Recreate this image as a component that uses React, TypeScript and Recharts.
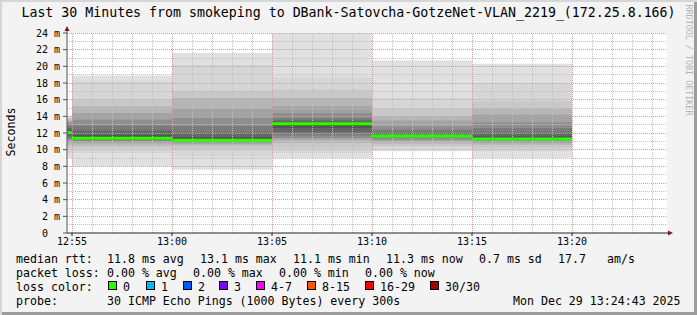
import React from 'react';
import {
  ComposedChart,
  Area,
  Line,
  XAxis,
  YAxis,
  CartesianGrid,
  ReferenceLine,
  ReferenceDot,
} from 'recharts';

// 5-minute rounds, seconds relative to 12:55:00
const blockStarts = [-15, 0, 300, 600, 900, 1200];
const blockEnd = 1500;
const medians = [12.04, 11.36, 11.12, 13.12, 11.64, 11.28];

// sorted ping times (ms) per round
const pings0 = [9.0, 9.6, 10.2, 10.6, 10.9, 11.2, 11.4, 11.6, 11.8, 11.95, 12.1, 12.3, 12.6, 12.9, 13.2, 13.4, 13.6, 13.8, 13.9, 14.1];
const pings1 = [8.0, 9.6, 10.2, 10.5, 10.8, 11.0, 11.1, 11.2, 11.3, 11.35, 11.45, 11.8, 12.3, 12.9, 13.6, 14.4, 15.2, 16.0, 18.2, 18.9];
const pings2 = [7.6, 9.2, 10.1, 10.5, 10.7, 10.9, 11.0, 11.05, 11.1, 11.12, 11.2, 11.5, 12.0, 12.8, 13.8, 15.0, 16.2, 17.1, 20.2, 21.6];
const pings3 = [9.0, 9.6, 10.2, 10.8, 11.2, 11.4, 11.7, 12.1, 12.6, 13.05, 13.15, 13.3, 13.5, 13.8, 14.4, 15.2, 16.2, 17.2, 18.7, 25.0];
const pings4 = [9.8, 10.1, 10.4, 10.7, 11.0, 11.2, 11.4, 11.5, 11.55, 11.62, 11.7, 11.8, 12.0, 12.4, 12.8, 13.5, 14.0, 15.0, 16.2, 20.7];
const pings5 = [9.0, 9.8, 10.2, 10.6, 10.8, 11.0, 11.1, 11.15, 11.2, 11.25, 11.35, 11.6, 12.0, 12.6, 13.3, 14.2, 15.0, 15.8, 18.0, 20.3];
const blockPings = [pings0, pings1, pings2, pings3, pings4, pings5];

const smokeShades = ['#e0e0e0', '#d6d6d6', '#c8c8c8', '#b6b6b6', '#a2a2a2', '#8e8e8e', '#7a7a7a', '#666666', '#555555', '#444444'];

const timeTicks = [0, 300, 600, 900, 1200, 1500];
const timeLabels = ['12:55', '13:00', '13:05', '13:10', '13:15', '13:20'];
const minorTimes = [60, 120, 180, 240, 360, 420, 480, 540, 660, 720, 780, 840, 960, 1020, 1080, 1140, 1260, 1320, 1380, 1440, 1560, 1620, 1680, 1740];
const msTicks = [0, 2, 4, 6, 8, 10, 12, 14, 16, 18, 20, 22, 24];
const majorMs = [2, 4, 6, 8, 10, 12, 14, 16, 18, 20, 22, 24];
const minorMs = [1, 3, 5, 7, 9, 11, 13, 15, 17, 19, 21, 23];

const rttLegend = [
  { text: 'median rtt:', x: 16 },
  { text: '11.8 ms avg', x: 107 },
  { text: '13.1 ms max', x: 200 },
  { text: '11.1 ms min', x: 293 },
  { text: '11.3 ms now', x: 386 },
  { text: '0.7 ms sd', x: 479 },
  { text: '17.7', x: 558 },
  { text: 'am/s', x: 607 },
];
const lossLegend = [
  { text: 'packet loss:', x: 16 },
  { text: '0.00 % avg', x: 107 },
  { text: '0.00 % max', x: 193 },
  { text: '0.00 % min', x: 279 },
  { text: '0.00 % now', x: 365 },
];
const lossColors = [
  { label: '0', color: '#26ff00', x: 108 },
  { label: '1', color: '#00b8ff', x: 146 },
  { label: '2', color: '#0059ff', x: 183 },
  { label: '3', color: '#7e00ff', x: 219 },
  { label: '4-7', color: '#ff00ff', x: 256 },
  { label: '8-15', color: '#ff5500', x: 307 },
  { label: '16-29', color: '#ff0000', x: 365 },
  { label: '30/30', color: '#a10000', x: 430 },
];
const probeLegend = [
  { text: 'probe:', x: 16 },
  { text: '30 ICMP Echo Pings (1000 Bytes) every 300s', x: 107 },
  { text: 'Mon Dec 29 13:24:43 2025', x: 513 },
];

const MONO = "'DejaVu Sans Mono', monospace";
const MINOR_GRID = '#c0c0c0';
const MAJOR_GRID = '#d09c9c';

const UpArrow = (props: any) => {
  const { cx, cy } = props;
  return (
    <g>
      <line x1={cx} y1={cy} x2={cx} y2={cy - 3} stroke="#555" />
      <path d={`M${cx - 2.5},${cy - 2} L${cx + 2.5},${cy - 2} L${cx},${cy - 7} Z`} fill="#8b1515" />
    </g>
  );
};

const RightArrow = (props: any) => {
  const { cx, cy } = props;
  return (
    <g>
      <line x1={cx} y1={cy} x2={cx + 3} y2={cy} stroke="#222" />
      <path d={`M${cx + 1},${cy - 2.5} L${cx + 1},${cy + 2.5} L${cx + 6},${cy} Z`} fill="#8b1515" />
    </g>
  );
};

const legendText: React.CSSProperties = {
  position: 'absolute',
  fontFamily: MONO,
  fontSize: 11.6,
  lineHeight: '14px',
  whiteSpace: 'pre',
  color: '#000',
};

const smokeKey = (k: number) => (d: any) =>
  d && d.p ? [d.p[k], d.p[d.p.length - 1 - k]] : null;

export default function App() {
  // one row per round start plus the closing edge; median of round i is kept
  // under its own key so each round gets a separate flat segment
  const rows: any[] = [...blockStarts, blockEnd].map((t, r) => {
    const row: any = { t, p: blockPings[Math.min(r, blockPings.length - 1)] };
    medians.forEach((m, i) => {
      row[`m${i}`] = r === i || r === i + 1 ? m : null;
    });
    return row;
  });

  return (
    <div
      style={{
        position: 'relative',
        width: 697,
        height: 315,
        background: '#f3f3f3',
        boxShadow: 'inset 2px 2px 0 #d6d6d6, inset -3px -3px 0 #9c9c9c',
        overflow: 'hidden',
      }}
    >
      <style>{'body{margin:0}'}</style>
      <div
        style={{
          position: 'absolute',
          left: 0,
          width: 697,
          top: 4,
          textAlign: 'center',
          fontFamily: MONO,
          fontSize: 13.25,
          lineHeight: '18px',
          whiteSpace: 'pre',
        }}
      >
        Last 30 Minutes from smokeping to DBank-Satovcha-GotzeNet-VLAN_2219_(172.25.8.166)
      </div>
      <div
        style={{
          position: 'absolute',
          left: 689,
          top: 60,
          transform: 'translate(-50%, -50%) rotate(90deg)',
          fontFamily: MONO,
          fontSize: 8.4,
          color: '#b4b4b4',
          whiteSpace: 'pre',
        }}
      >
        RRDTOOL / TOBI OETIKER
      </div>
      <div
        style={{
          position: 'absolute',
          left: 11,
          top: 132,
          transform: 'translate(-50%, -50%) rotate(-90deg)',
          fontFamily: MONO,
          fontSize: 11.6,
          whiteSpace: 'pre',
        }}
      >
        Seconds
      </div>

      <div style={{ position: 'absolute', left: 0, top: 0 }}>
        <ComposedChart width={697} height={315} data={rows} margin={{ top: 33, right: 30, bottom: 52, left: 0 }}>
          <CartesianGrid horizontal={false} vertical={false} fill="#ffffff" />
          <XAxis
            dataKey="t"
            type="number"
            domain={[-15, 1785]}
            allowDataOverflow
            ticks={timeTicks}
            tickFormatter={(v: number) => timeLabels[timeTicks.indexOf(v)]}
            height={30}
            tickSize={3}
            tickMargin={2}
            stroke="#222"
            tick={{ fontSize: 10, fontFamily: MONO, fill: '#000' }}
          />
          <YAxis
            type="number"
            domain={[0, 24]}
            allowDataOverflow
            ticks={msTicks}
            tickFormatter={(v: number) => (v === 0 ? '0\u00a0\u00a0' : `${v} m`)}
            width={67}
            tickSize={4}
            tickMargin={3}
            stroke="#555"
            tick={{ fontSize: 10, fontFamily: MONO, fill: '#000' }}
          />
          {smokeShades.map((fill, k) => (
            <Area
              key={`smoke-${k}`}
              dataKey={smokeKey(k)}
              type="stepAfter"
              fill={fill}
              fillOpacity={1}
              stroke="none"
              isAnimationActive={false}
            />
          ))}
          {minorMs.map((v) => (
            <ReferenceLine key={`hm-${v}`} y={v} stroke={MINOR_GRID} strokeDasharray="1 1" shapeRendering="crispEdges" />
          ))}
          {minorTimes.map((v) => (
            <ReferenceLine key={`vm-${v}`} x={v} stroke={MINOR_GRID} strokeDasharray="1 1" shapeRendering="crispEdges" />
          ))}
          {majorMs.map((v) => (
            <ReferenceLine key={`hM-${v}`} y={v} stroke={MAJOR_GRID} strokeDasharray="1 1" shapeRendering="crispEdges" />
          ))}
          {timeTicks.map((v) => (
            <ReferenceLine key={`vM-${v}`} x={v} stroke={MAJOR_GRID} strokeDasharray="1 1" shapeRendering="crispEdges" />
          ))}
          {medians.map((_m, i) => (
            <Line
              key={`median-${i}`}
              dataKey={`m${i}`}
              type="linear"
              stroke="#26ff00"
              strokeWidth={3}
              dot={false}
              activeDot={false}
              connectNulls={false}
              isAnimationActive={false}
            />
          ))}
          <ReferenceDot x={-15} y={24} ifOverflow="visible" shape={UpArrow} />
          <ReferenceDot x={1785} y={0} ifOverflow="visible" shape={RightArrow} />
        </ComposedChart>
      </div>

      {rttLegend.map((it) => (
        <span key={it.text} style={{ ...legendText, left: it.x, top: 252 }}>{it.text}</span>
      ))}
      {lossLegend.map((it) => (
        <span key={it.text} style={{ ...legendText, left: it.x, top: 266 }}>{it.text}</span>
      ))}
      <span style={{ ...legendText, left: 16, top: 280 }}>loss color:</span>
      {lossColors.map((it) => (
        <React.Fragment key={it.label}>
          <span
            style={{
              position: 'absolute',
              left: it.x,
              top: 281,
              width: 7,
              height: 7,
              background: it.color,
              border: '1px solid #000',
            }}
          />
          <span style={{ ...legendText, left: it.x + 15, top: 280 }}>{it.label}</span>
        </React.Fragment>
      ))}
      {probeLegend.map((it) => (
        <span key={it.text} style={{ ...legendText, left: it.x, top: 294 }}>{it.text}</span>
      ))}
    </div>
  );
}
